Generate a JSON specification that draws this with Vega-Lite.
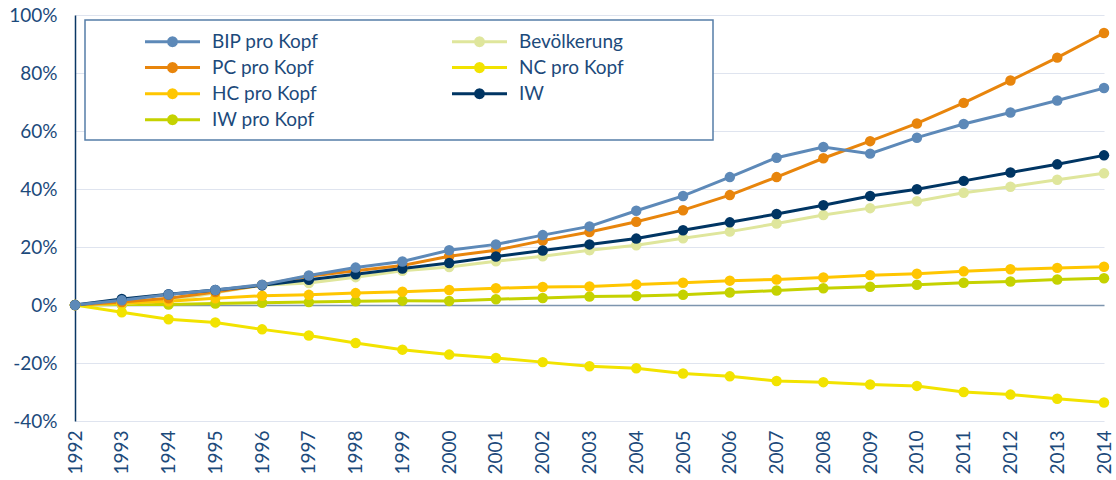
{
  "$schema": "https://vega.github.io/schema/vega-lite/v6.json",
  "width": 1029,
  "height": 406,
  "autosize": {"type": "none"},
  "padding": {"left": 75, "top": 15, "right": 12, "bottom": 59},
  "background": "white",
  "config": {"view": {"stroke": null}, "font": "Lato"},
  "datasets": {
    "d": [
      {"Reihe": "IW pro Kopf", "Jahr": 1992, "Wert": 0}, {"Reihe": "IW pro Kopf", "Jahr": 1993, "Wert": 0.2}, {"Reihe": "IW pro Kopf", "Jahr": 1994, "Wert": 0.2}, {"Reihe": "IW pro Kopf", "Jahr": 1995, "Wert": 0.5}, {"Reihe": "IW pro Kopf", "Jahr": 1996, "Wert": 0.8}, {"Reihe": "IW pro Kopf", "Jahr": 1997, "Wert": 1.0}, {"Reihe": "IW pro Kopf", "Jahr": 1998, "Wert": 1.3}, {"Reihe": "IW pro Kopf", "Jahr": 1999, "Wert": 1.5}, {"Reihe": "IW pro Kopf", "Jahr": 2000, "Wert": 1.4}, {"Reihe": "IW pro Kopf", "Jahr": 2001, "Wert": 2.0}, {"Reihe": "IW pro Kopf", "Jahr": 2002, "Wert": 2.4}, {"Reihe": "IW pro Kopf", "Jahr": 2003, "Wert": 2.9}, {"Reihe": "IW pro Kopf", "Jahr": 2004, "Wert": 3.1}, {"Reihe": "IW pro Kopf", "Jahr": 2005, "Wert": 3.5}, {"Reihe": "IW pro Kopf", "Jahr": 2006, "Wert": 4.3}, {"Reihe": "IW pro Kopf", "Jahr": 2007, "Wert": 5.0}, {"Reihe": "IW pro Kopf", "Jahr": 2008, "Wert": 5.8}, {"Reihe": "IW pro Kopf", "Jahr": 2009, "Wert": 6.3}, {"Reihe": "IW pro Kopf", "Jahr": 2010, "Wert": 7.0}, {"Reihe": "IW pro Kopf", "Jahr": 2011, "Wert": 7.7}, {"Reihe": "IW pro Kopf", "Jahr": 2012, "Wert": 8.1}, {"Reihe": "IW pro Kopf", "Jahr": 2013, "Wert": 8.8}, {"Reihe": "IW pro Kopf", "Jahr": 2014, "Wert": 9.2},
      {"Reihe": "Bevölkerung", "Jahr": 1992, "Wert": 0}, {"Reihe": "Bevölkerung", "Jahr": 1993, "Wert": 0.5}, {"Reihe": "Bevölkerung", "Jahr": 1994, "Wert": 1.5}, {"Reihe": "Bevölkerung", "Jahr": 1995, "Wert": 4.2}, {"Reihe": "Bevölkerung", "Jahr": 1996, "Wert": 6.8}, {"Reihe": "Bevölkerung", "Jahr": 1997, "Wert": 7.6}, {"Reihe": "Bevölkerung", "Jahr": 1998, "Wert": 9.6}, {"Reihe": "Bevölkerung", "Jahr": 1999, "Wert": 11.8}, {"Reihe": "Bevölkerung", "Jahr": 2000, "Wert": 13.1}, {"Reihe": "Bevölkerung", "Jahr": 2001, "Wert": 15.1}, {"Reihe": "Bevölkerung", "Jahr": 2002, "Wert": 16.8}, {"Reihe": "Bevölkerung", "Jahr": 2003, "Wert": 18.9}, {"Reihe": "Bevölkerung", "Jahr": 2004, "Wert": 20.6}, {"Reihe": "Bevölkerung", "Jahr": 2005, "Wert": 23.0}, {"Reihe": "Bevölkerung", "Jahr": 2006, "Wert": 25.3}, {"Reihe": "Bevölkerung", "Jahr": 2007, "Wert": 28.1}, {"Reihe": "Bevölkerung", "Jahr": 2008, "Wert": 31.0}, {"Reihe": "Bevölkerung", "Jahr": 2009, "Wert": 33.4}, {"Reihe": "Bevölkerung", "Jahr": 2010, "Wert": 35.8}, {"Reihe": "Bevölkerung", "Jahr": 2011, "Wert": 38.7}, {"Reihe": "Bevölkerung", "Jahr": 2012, "Wert": 40.8}, {"Reihe": "Bevölkerung", "Jahr": 2013, "Wert": 43.2}, {"Reihe": "Bevölkerung", "Jahr": 2014, "Wert": 45.4},
      {"Reihe": "HC pro Kopf", "Jahr": 1992, "Wert": 0}, {"Reihe": "HC pro Kopf", "Jahr": 1993, "Wert": 0.6}, {"Reihe": "HC pro Kopf", "Jahr": 1994, "Wert": 1.3}, {"Reihe": "HC pro Kopf", "Jahr": 1995, "Wert": 2.3}, {"Reihe": "HC pro Kopf", "Jahr": 1996, "Wert": 3.2}, {"Reihe": "HC pro Kopf", "Jahr": 1997, "Wert": 3.5}, {"Reihe": "HC pro Kopf", "Jahr": 1998, "Wert": 4.1}, {"Reihe": "HC pro Kopf", "Jahr": 1999, "Wert": 4.6}, {"Reihe": "HC pro Kopf", "Jahr": 2000, "Wert": 5.2}, {"Reihe": "HC pro Kopf", "Jahr": 2001, "Wert": 5.8}, {"Reihe": "HC pro Kopf", "Jahr": 2002, "Wert": 6.2}, {"Reihe": "HC pro Kopf", "Jahr": 2003, "Wert": 6.4}, {"Reihe": "HC pro Kopf", "Jahr": 2004, "Wert": 7.1}, {"Reihe": "HC pro Kopf", "Jahr": 2005, "Wert": 7.7}, {"Reihe": "HC pro Kopf", "Jahr": 2006, "Wert": 8.4}, {"Reihe": "HC pro Kopf", "Jahr": 2007, "Wert": 8.8}, {"Reihe": "HC pro Kopf", "Jahr": 2008, "Wert": 9.5}, {"Reihe": "HC pro Kopf", "Jahr": 2009, "Wert": 10.3}, {"Reihe": "HC pro Kopf", "Jahr": 2010, "Wert": 10.8}, {"Reihe": "HC pro Kopf", "Jahr": 2011, "Wert": 11.6}, {"Reihe": "HC pro Kopf", "Jahr": 2012, "Wert": 12.3}, {"Reihe": "HC pro Kopf", "Jahr": 2013, "Wert": 12.8}, {"Reihe": "HC pro Kopf", "Jahr": 2014, "Wert": 13.2},
      {"Reihe": "NC pro Kopf", "Jahr": 1992, "Wert": 0}, {"Reihe": "NC pro Kopf", "Jahr": 1993, "Wert": -2.5}, {"Reihe": "NC pro Kopf", "Jahr": 1994, "Wert": -4.9}, {"Reihe": "NC pro Kopf", "Jahr": 1995, "Wert": -6.0}, {"Reihe": "NC pro Kopf", "Jahr": 1996, "Wert": -8.4}, {"Reihe": "NC pro Kopf", "Jahr": 1997, "Wert": -10.5}, {"Reihe": "NC pro Kopf", "Jahr": 1998, "Wert": -13.1}, {"Reihe": "NC pro Kopf", "Jahr": 1999, "Wert": -15.4}, {"Reihe": "NC pro Kopf", "Jahr": 2000, "Wert": -17.1}, {"Reihe": "NC pro Kopf", "Jahr": 2001, "Wert": -18.3}, {"Reihe": "NC pro Kopf", "Jahr": 2002, "Wert": -19.7}, {"Reihe": "NC pro Kopf", "Jahr": 2003, "Wert": -21.1}, {"Reihe": "NC pro Kopf", "Jahr": 2004, "Wert": -21.8}, {"Reihe": "NC pro Kopf", "Jahr": 2005, "Wert": -23.6}, {"Reihe": "NC pro Kopf", "Jahr": 2006, "Wert": -24.6}, {"Reihe": "NC pro Kopf", "Jahr": 2007, "Wert": -26.2}, {"Reihe": "NC pro Kopf", "Jahr": 2008, "Wert": -26.6}, {"Reihe": "NC pro Kopf", "Jahr": 2009, "Wert": -27.4}, {"Reihe": "NC pro Kopf", "Jahr": 2010, "Wert": -27.9}, {"Reihe": "NC pro Kopf", "Jahr": 2011, "Wert": -30.0}, {"Reihe": "NC pro Kopf", "Jahr": 2012, "Wert": -30.9}, {"Reihe": "NC pro Kopf", "Jahr": 2013, "Wert": -32.3}, {"Reihe": "NC pro Kopf", "Jahr": 2014, "Wert": -33.6},
      {"Reihe": "PC pro Kopf", "Jahr": 1992, "Wert": 0}, {"Reihe": "PC pro Kopf", "Jahr": 1993, "Wert": 1.0}, {"Reihe": "PC pro Kopf", "Jahr": 1994, "Wert": 2.3}, {"Reihe": "PC pro Kopf", "Jahr": 1995, "Wert": 4.5}, {"Reihe": "PC pro Kopf", "Jahr": 1996, "Wert": 6.9}, {"Reihe": "PC pro Kopf", "Jahr": 1997, "Wert": 9.9}, {"Reihe": "PC pro Kopf", "Jahr": 1998, "Wert": 11.8}, {"Reihe": "PC pro Kopf", "Jahr": 1999, "Wert": 13.6}, {"Reihe": "PC pro Kopf", "Jahr": 2000, "Wert": 16.8}, {"Reihe": "PC pro Kopf", "Jahr": 2001, "Wert": 18.9}, {"Reihe": "PC pro Kopf", "Jahr": 2002, "Wert": 22.2}, {"Reihe": "PC pro Kopf", "Jahr": 2003, "Wert": 25.2}, {"Reihe": "PC pro Kopf", "Jahr": 2004, "Wert": 28.7}, {"Reihe": "PC pro Kopf", "Jahr": 2005, "Wert": 32.7}, {"Reihe": "PC pro Kopf", "Jahr": 2006, "Wert": 37.9}, {"Reihe": "PC pro Kopf", "Jahr": 2007, "Wert": 44.1}, {"Reihe": "PC pro Kopf", "Jahr": 2008, "Wert": 50.6}, {"Reihe": "PC pro Kopf", "Jahr": 2009, "Wert": 56.5}, {"Reihe": "PC pro Kopf", "Jahr": 2010, "Wert": 62.6}, {"Reihe": "PC pro Kopf", "Jahr": 2011, "Wert": 69.7}, {"Reihe": "PC pro Kopf", "Jahr": 2012, "Wert": 77.4}, {"Reihe": "PC pro Kopf", "Jahr": 2013, "Wert": 85.3}, {"Reihe": "PC pro Kopf", "Jahr": 2014, "Wert": 93.8},
      {"Reihe": "IW", "Jahr": 1992, "Wert": 0}, {"Reihe": "IW", "Jahr": 1993, "Wert": 2.1}, {"Reihe": "IW", "Jahr": 1994, "Wert": 3.7}, {"Reihe": "IW", "Jahr": 1995, "Wert": 5.2}, {"Reihe": "IW", "Jahr": 1996, "Wert": 6.8}, {"Reihe": "IW", "Jahr": 1997, "Wert": 8.7}, {"Reihe": "IW", "Jahr": 1998, "Wert": 10.6}, {"Reihe": "IW", "Jahr": 1999, "Wert": 12.6}, {"Reihe": "IW", "Jahr": 2000, "Wert": 14.5}, {"Reihe": "IW", "Jahr": 2001, "Wert": 16.7}, {"Reihe": "IW", "Jahr": 2002, "Wert": 18.8}, {"Reihe": "IW", "Jahr": 2003, "Wert": 20.9}, {"Reihe": "IW", "Jahr": 2004, "Wert": 22.9}, {"Reihe": "IW", "Jahr": 2005, "Wert": 25.8}, {"Reihe": "IW", "Jahr": 2006, "Wert": 28.5}, {"Reihe": "IW", "Jahr": 2007, "Wert": 31.4}, {"Reihe": "IW", "Jahr": 2008, "Wert": 34.4}, {"Reihe": "IW", "Jahr": 2009, "Wert": 37.6}, {"Reihe": "IW", "Jahr": 2010, "Wert": 39.9}, {"Reihe": "IW", "Jahr": 2011, "Wert": 42.8}, {"Reihe": "IW", "Jahr": 2012, "Wert": 45.7}, {"Reihe": "IW", "Jahr": 2013, "Wert": 48.5}, {"Reihe": "IW", "Jahr": 2014, "Wert": 51.6},
      {"Reihe": "BIP pro Kopf", "Jahr": 1992, "Wert": 0}, {"Reihe": "BIP pro Kopf", "Jahr": 1993, "Wert": 1.6}, {"Reihe": "BIP pro Kopf", "Jahr": 1994, "Wert": 3.6}, {"Reihe": "BIP pro Kopf", "Jahr": 1995, "Wert": 5.2}, {"Reihe": "BIP pro Kopf", "Jahr": 1996, "Wert": 7.0}, {"Reihe": "BIP pro Kopf", "Jahr": 1997, "Wert": 10.2}, {"Reihe": "BIP pro Kopf", "Jahr": 1998, "Wert": 12.9}, {"Reihe": "BIP pro Kopf", "Jahr": 1999, "Wert": 15.0}, {"Reihe": "BIP pro Kopf", "Jahr": 2000, "Wert": 18.9}, {"Reihe": "BIP pro Kopf", "Jahr": 2001, "Wert": 20.9}, {"Reihe": "BIP pro Kopf", "Jahr": 2002, "Wert": 24.1}, {"Reihe": "BIP pro Kopf", "Jahr": 2003, "Wert": 27.1}, {"Reihe": "BIP pro Kopf", "Jahr": 2004, "Wert": 32.5}, {"Reihe": "BIP pro Kopf", "Jahr": 2005, "Wert": 37.6}, {"Reihe": "BIP pro Kopf", "Jahr": 2006, "Wert": 44.1}, {"Reihe": "BIP pro Kopf", "Jahr": 2007, "Wert": 50.8}, {"Reihe": "BIP pro Kopf", "Jahr": 2008, "Wert": 54.5}, {"Reihe": "BIP pro Kopf", "Jahr": 2009, "Wert": 52.2}, {"Reihe": "BIP pro Kopf", "Jahr": 2010, "Wert": 57.7}, {"Reihe": "BIP pro Kopf", "Jahr": 2011, "Wert": 62.4}, {"Reihe": "BIP pro Kopf", "Jahr": 2012, "Wert": 66.4}, {"Reihe": "BIP pro Kopf", "Jahr": 2013, "Wert": 70.5}, {"Reihe": "BIP pro Kopf", "Jahr": 2014, "Wert": 74.8}
    ]
  },
  "data": {"name": "d"},
  "mark": {"type": "line", "strokeWidth": 3, "point": {"filled": true, "size": 110, "opacity": 1}},
  "encoding": {
    "x": {
      "field": "Jahr", "type": "ordinal",
      "scale": {"type": "point", "padding": 0},
      "axis": {"title": null, "domain": false, "ticks": false, "grid": false, "labelAngle": 270, "labelAlign": "right", "labelBaseline": "middle", "labelPadding": 9, "labelFont": "Lato", "labelFontSize": 19, "labelColor": "#1c4a7b"}
    },
    "y": {
      "field": "Wert", "type": "quantitative",
      "scale": {"domain": [-40, 100], "nice": false, "zero": false},
      "axis": {
        "title": null, "values": [-40, -20, 0, 20, 40, 60, 80, 100],
        "labelExpr": "datum.value + '%'",
        "domain": true, "domainColor": "#0b3764", "domainWidth": 1.5,
        "ticks": false, "grid": true,
        "gridColor": {"condition": {"test": "datum.value === 0", "value": "#7d95ae"}, "value": "#dfe4ef"},
        "gridWidth": {"condition": {"test": "datum.value === 0", "value": 1.6}, "value": 1.2},
        "labelPadding": 18, "labelFont": "Lato", "labelFontSize": 19, "labelColor": "#1c4a7b"
      }
    },
    "color": {
      "field": "Reihe", "type": "nominal",
      "scale": {
        "domain": ["BIP pro Kopf", "PC pro Kopf", "HC pro Kopf", "IW pro Kopf", "Bevölkerung", "NC pro Kopf", "IW"],
        "range": ["#5d89b8", "#e8850c", "#ffc600", "#c5d200", "#dfe69c", "#f2e300", "#003563"]
      },
      "legend": {
        "title": "\u2003", "titleOrient": "right", "titlePadding": 79, "titleFontSize": 19, "titleFont": "DejaVu Sans",
        "orient": "none", "legendX": 10, "legendY": 5,
        "columns": 2, "columnPadding": 83, "rowPadding": 4.1,
        "padding": 10, "strokeColor": "#557ea8", "fillColor": "white",
        "symbolType": "M3.85,0L9.35,0M7,0L6.946,0.2L6.8,0.346L6.6,0.4L6.4,0.346L6.254,0.2L6.2,0L6.254,-0.2L6.4,-0.346L6.6,-0.4L6.8,-0.346L6.946,-0.2Z",
        "symbolSize": 400, "symbolStrokeWidth": 3, "labelOffset": 94,
        "labelFont": "Lato", "labelFontSize": 19, "labelColor": "#1c4a7b",
        "encode": {
          "legend": {"update": {"strokeWidth": {"value": 1.5}}},
          "symbols": {"update": {"fill": {"scale": "color", "field": "value"}, "stroke": {"scale": "color", "field": "value"}, "opacity": {"value": 1}, "fillOpacity": {"value": 1}}}
        }
      }
    }
  }
}
